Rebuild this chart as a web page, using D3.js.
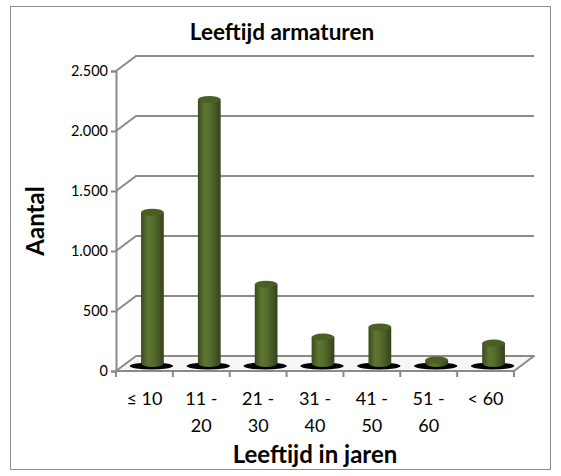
<!DOCTYPE html>
<html>
<head>
<meta charset="utf-8">
<script src="https://cdn.jsdelivr.net/npm/d3@7"></script>
<style>
  body { margin: 0; background: #fff; }
  svg { display: block; font-family: Lato, "Open Sans", sans-serif; }
</style>
</head>
<body>
<svg id="chart" width="561" height="476"></svg>
<script>
const categories = ["≤ 10", "11 - 20", "21 - 30", "31 - 40", "41 - 50", "51 - 60", "< 60"];
const labelLines = [["≤ 10"], ["11 -", "20"], ["21 -", "30"], ["31 -", "40"], ["41 -", "50"], ["51 -", "60"], ["< 60"]];
const values = [1260, 2200, 660, 220, 305, 30, 170];
const yTicks = [0, 500, 1000, 1500, 2000, 2500];

const title = "Leeftijd armaturen";
const xTitle = "Leeftijd in jaren";
const yTitle = "Aantal";

const gridColor = "#8a8a8a";
const depth = { dx: 20, dy: -15 };

const nl = d3.formatLocale({ decimal: ",", thousands: ".", grouping: [3], currency: ["€", ""] });
const fmt = nl.format(",d");

const svg = d3.select("#chart");

// outer frame
svg.append("rect")
    .attr("x", 10.5).attr("y", 6.5)
    .attr("width", 540).attr("height", 463)
    .attr("fill", "#fff")
    .attr("stroke", "#8c8c8c")
    .attr("stroke-width", 1);

const x = d3.scaleBand().domain(categories).range([116, 514]);
const y = d3.scaleLinear().domain([0, 2500]).range([371, 71]);

const x0 = x.range()[0], x1 = x.range()[1];

// floor
svg.append("path")
    .attr("d", `M${x0},${y(0)} L${x0 + depth.dx},${y(0) + depth.dy} L${x1 + depth.dx},${y(0) + depth.dy} L${x1},${y(0)} Z`)
    .attr("fill", "#f6f6f6")
    .attr("stroke", gridColor)
    .attr("stroke-width", 2)
    .attr("stroke-linejoin", "round");

// gridlines on back wall + side diagonals
const grid = svg.append("g");
yTicks.filter(d => d > 0).forEach(t => {
    grid.append("path")
        .attr("d", `M${x0},${y(t)} L${x0 + depth.dx},${y(t) + depth.dy} L${x1 + depth.dx},${y(t) + depth.dy}`)
        .attr("fill", "none")
        .attr("stroke", gridColor)
        .attr("stroke-width", 2);
});

// bar gradient
const defs = svg.append("defs");
const grad = defs.append("linearGradient").attr("id", "barGrad")
    .attr("x1", "0%").attr("x2", "100%").attr("y1", "0%").attr("y2", "0%");
grad.append("stop").attr("offset", "0%").attr("stop-color", "#3a4a1c");
grad.append("stop").attr("offset", "30%").attr("stop-color", "#5d7631");
grad.append("stop").attr("offset", "55%").attr("stop-color", "#566b2d");
grad.append("stop").attr("offset", "100%").attr("stop-color", "#34421a");

const bw = x.bandwidth() * 0.4;
const ry = 3.5;
const cx = d => x(d) + x.bandwidth() / 2 + depth.dx / 2 - 2;
const baseY = y(0) + depth.dy / 2;
const topY = v => y(v) + depth.dy / 2;

const data = categories.map((c, i) => ({ c, v: values[i] }));

// shadows
svg.append("g").selectAll("ellipse")
    .data(data)
    .join("ellipse")
    .attr("cx", d => cx(d.c) - 1)
    .attr("cy", baseY + 2.5)
    .attr("rx", bw * 0.95)
    .attr("ry", 3.5)
    .attr("fill", "#000");

const bars = svg.append("g").selectAll("g")
    .data(data)
    .join("g");

bars.append("path")
    .attr("d", d => {
        const l = cx(d.c) - bw / 2, r = cx(d.c) + bw / 2;
        const t = topY(d.v), b = baseY;
        return `M${l},${t} L${l},${b} A${bw / 2},${ry} 0 0 0 ${r},${b} L${r},${t} Z`;
    })
    .attr("fill", "url(#barGrad)");

bars.append("ellipse")
    .attr("cx", d => cx(d.c))
    .attr("cy", d => topY(d.v))
    .attr("rx", bw / 2)
    .attr("ry", ry)
    .attr("fill", "#4b5f24");

// y axis
const yAxis = svg.append("g")
    .attr("transform", `translate(${x0},0)`)
    .call(d3.axisLeft(y).tickValues(yTicks).tickFormat(fmt).tickSize(5).tickPadding(3));
yAxis.select(".domain").attr("stroke", gridColor).attr("stroke-width", 2);
yAxis.selectAll(".tick line").attr("stroke", gridColor).attr("stroke-width", 2);
yAxis.selectAll(".tick text").attr("font-size", 14.5).attr("fill", "#000")
    .attr("font-family", "Lato, sans-serif");

// x axis ticks
svg.append("g").selectAll("line")
    .data(d3.range(categories.length + 1))
    .join("line")
    .attr("x1", i => x0 + i * x.step())
    .attr("x2", i => x0 + i * x.step())
    .attr("y1", y(0))
    .attr("y2", y(0) + 6)
    .attr("stroke", gridColor)
    .attr("stroke-width", 2);

svg.append("g").selectAll("text")
    .data(categories)
    .join("text")
    .attr("x", d => x(d) + x.bandwidth() / 2)
    .attr("y", 405)
    .attr("text-anchor", "middle")
    .attr("font-size", 18)
    .each(function (d, i) {
        const t = d3.select(this);
        labelLines[i].forEach((line, j) => {
            t.append("tspan")
                .attr("x", x(d) + x.bandwidth() / 2)
                .attr("dy", j === 0 ? 0 : 26.5)
                .text(line);
        });
    });

// titles
svg.append("text")
    .attr("x", 282).attr("y", 40)
    .attr("text-anchor", "middle")
    .attr("font-size", 22.5).attr("font-weight", "bold")
    .text(title);

svg.append("text")
    .attr("x", (x0 + x1) / 2).attr("y", 463)
    .attr("text-anchor", "middle")
    .attr("font-size", 24).attr("font-weight", "bold")
    .text(xTitle);

svg.append("text")
    .attr("transform", "translate(44,221) rotate(-90)")
    .attr("text-anchor", "middle")
    .attr("font-size", 24).attr("font-weight", "bold")
    .text(yTitle);
</script>
</body>
</html>
